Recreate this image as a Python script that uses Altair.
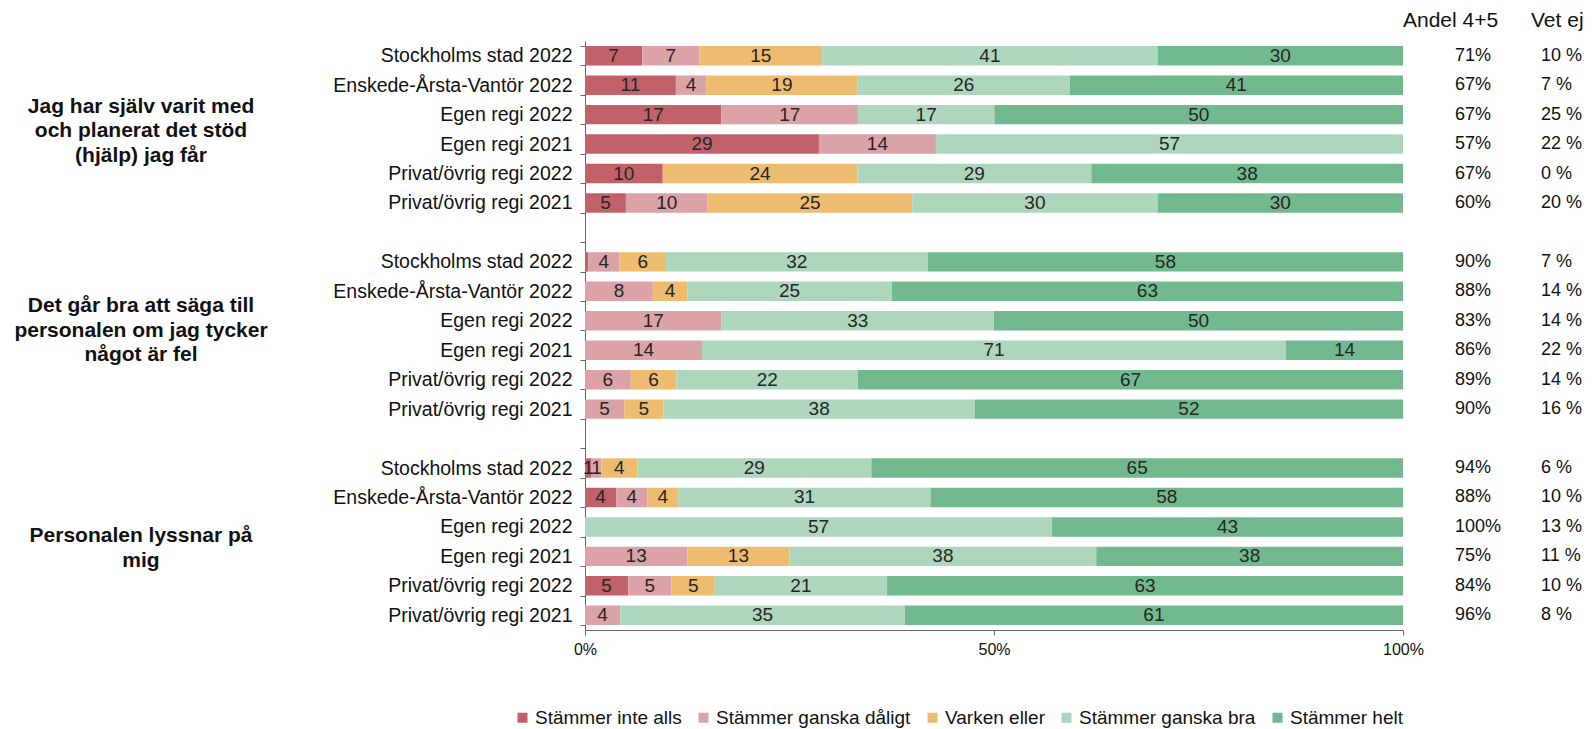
import math
import altair as alt
import pandas as pd

# ---------------- data ----------------
units = ["Stockholms stad 2022", "Enskede-Årsta-Vantör 2022", "Egen regi 2022",
         "Egen regi 2021", "Privat/övrig regi 2022", "Privat/övrig regi 2021"]
group_titles = [
    ["Jag har själv varit med", "och planerat det stöd", "(hjälp) jag får"],
    ["Det går bra att säga till", "personalen om jag tycker", "något är fel"],
    ["Personalen lyssnar på", "mig"],
]
series = ["Stämmer inte alls", "Stämmer ganska dåligt", "Varken eller",
          "Stämmer ganska bra", "Stämmer helt"]
colors = ["#C1626B", "#DBA3A8", "#EDBC70", "#AED6BD", "#73B98F"]

inte_alls     = [7.0, 11.1, 16.7, 28.6, 9.5, 5.0,  0.4, 0, 0, 0, 0, 0,  0.8, 3.8, 0, 0, 5.3, 0]
ganska_daligt = [7.0, 3.7, 16.7, 14.3, 0, 10.0,  3.8, 8.3, 16.7, 14.3, 5.6, 4.8,  1.2, 3.8, 0, 12.5, 5.3, 4.3]
varken        = [15.0, 18.5, 0, 0, 23.8, 25.0,  5.7, 4.2, 0, 0, 5.6, 4.8,  4.4, 3.8, 0, 12.5, 5.3, 0]
ganska_bra    = [41.0, 25.9, 16.7, 57.1, 28.6, 30.0,  32.0, 25.0, 33.3, 71.4, 22.2, 38.1,  28.6, 30.8, 57.1, 37.5, 21.1, 34.8]
helt          = [30.0, 40.7, 50.0, 0, 38.1, 30.0,  58.1, 62.5, 50.0, 14.3, 66.7, 52.4,  65.0, 57.7, 42.9, 37.5, 63.2, 60.9]

andel = ["71%", "67%", "67%", "57%", "67%", "60%",
         "90%", "88%", "83%", "86%", "89%", "90%",
         "94%", "88%", "100%", "75%", "84%", "96%"]
vet_ej = ["10 %", "7 %", "25 %", "22 %", "0 %", "20 %",
          "7 %", "14 %", "14 %", "22 %", "14 %", "16 %",
          "6 %", "10 %", "13 %", "11 %", "10 %", "8 %"]
headers = ["Andel 4+5", "Vet ej"]

# ---------------- tables ----------------
row_keys = []
for g in range(3):
    for u_i, u in enumerate(units):
        row_keys.append(f"{g*6+u_i+1:02d} {u}")
domain = row_keys[0:6] + ["g1 "] + row_keys[6:12] + ["g2 "] + row_keys[12:18]

all_series = [inte_alls, ganska_daligt, varken, ganska_bra, helt]
recs = []
for s_i, (name, vals) in enumerate(zip(series, all_series)):
    for r_i, v in enumerate(vals):
        recs.append({"key": row_keys[r_i], "serie": name, "ord": s_i, "value": float(v),
                     "label": str(int(math.floor(v + 0.5)))})
bars_df = pd.DataFrame(recs)

side_df = pd.DataFrame({"key": row_keys, "andel": andel, "vet": vet_ej})
grp_df = pd.DataFrame({"key": [row_keys[2], row_keys[8], row_keys[14]],
                       "gtitle": ["\n".join(t) for t in group_titles],
                       "gid": [1, 2, 3]})

FONT = "Liberation Sans"
TXT = "#111111"
W, H = 818, 589

yscale = alt.Scale(domain=domain, paddingInner=0.34, paddingOuter=0.17)

bars = alt.Chart(bars_df).mark_bar().encode(
    x=alt.X("value:Q", stack="normalize", scale=alt.Scale(domain=[0, 1], nice=False),
            axis=alt.Axis(title="", format=".0%", values=[0, 0.5, 1], grid=False,
                          labelFontSize=16, labelColor=TXT, tickSize=5, labelPadding=6,
                          labelFlush=False, domainColor="#666666", tickColor="#666666",
                          labelFont=FONT)),
    y=alt.Y("key:N", scale=yscale,
            axis=alt.Axis(title="", labelExpr="substring(datum.label, 3)", tickBand="extent",
                          labelFontSize=19.5, labelColor=TXT, labelPadding=8, tickSize=5,
                          domainColor="#666666", tickColor="#666666", labelFont=FONT,
                          labelLimit=400)),
    color=alt.Color("serie:N", scale=alt.Scale(domain=series, range=colors),
                    legend=alt.Legend(title="", orient="none", direction="horizontal",
                                      legendX=-72, legendY=667, symbolType="square",
                                      symbolSize=100, labelFontSize=19, labelFont=FONT,
                                      labelColor=TXT, labelLimit=400, columnPadding=12,
                                      labelOffset=3)),
    order=alt.Order("ord:Q"),
)

labels = alt.Chart(bars_df).transform_joinaggregate(
    total="sum(value)", groupby=["key"]
).transform_calculate(
    pct="datum.value / datum.total"
).transform_window(
    cum="sum(pct)", sort=[alt.SortField("ord")], groupby=["key"]
).transform_calculate(
    mid="datum.cum - datum.pct / 2"
).transform_filter("datum.label != '0'").mark_text(
    fontSize=19, font=FONT, color="#262626"
).encode(x=alt.X("mid:Q"), y=alt.Y("key:N", scale=yscale), text="label:N")

andel_t = alt.Chart(side_df).mark_text(align="left", fontSize=18, font=FONT, color=TXT).encode(
    y=alt.Y("key:N", scale=yscale), x=alt.value(870), text="andel:N")
vet_t = alt.Chart(side_df).mark_text(align="left", fontSize=18, font=FONT, color=TXT).encode(
    y=alt.Y("key:N", scale=yscale), x=alt.value(956), text="vet:N")

hdr1 = alt.Chart(pd.DataFrame({"t": [headers[0]]})).mark_text(
    align="left", fontSize=21, font=FONT, color=TXT).encode(
    x=alt.value(818), y=alt.value(-20), text="t:N")
hdr2 = alt.Chart(pd.DataFrame({"t": [headers[1]]})).mark_text(
    align="left", fontSize=21, font=FONT, color=TXT).encode(
    x=alt.value(946), y=alt.value(-20), text="t:N")

grp_common = dict(align="center", baseline="middle", fontSize=21, fontWeight="bold",
                  font=FONT, color=TXT, lineBreak="\n", lineHeight=24.8)
grp_layers = []
for gid, off in [(1, -8), (2, -15), (3, 9)]:
    grp_layers.append(
        alt.Chart(grp_df).transform_filter(f"datum.gid == {gid}").mark_text(
            dy=off, **grp_common
        ).encode(y=alt.Y("key:N", scale=yscale), x=alt.value(-444), text="gtitle:N")
    )

chart = alt.layer(bars, labels, andel_t, vet_t, hdr1, hdr2, *grp_layers).properties(
    width=W, height=H,
    autosize=alt.AutoSizeParams(type="none"),
    padding={"left": 577, "top": 33, "right": 182, "bottom": 100},
).configure_view(stroke="transparent")

chart.save("out.html", embed_options={"renderer": "svg", "actions": False})
